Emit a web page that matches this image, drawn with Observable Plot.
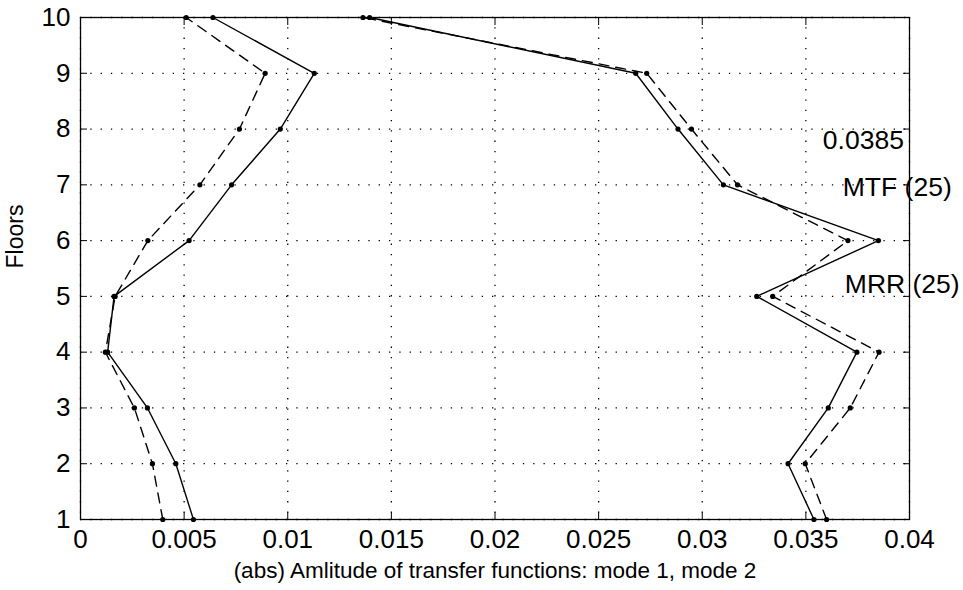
<!DOCTYPE html>
<html>
<head>
<meta charset="utf-8">
<script src="https://cdn.jsdelivr.net/npm/d3@7"></script>
<script src="https://cdn.jsdelivr.net/npm/@observablehq/plot@0.6"></script>
<style>
  html, body { margin: 0; padding: 0; background: #fff; }
  svg { font-family: "Liberation Sans", Arial, sans-serif; }
</style>
</head>
<body>
<div id="chart"></div>
<script>
const floors = [1, 2, 3, 4, 5, 6, 7, 8, 9, 10];
const mode1Solid  = [0.00545, 0.0046, 0.00323, 0.00131, 0.00162, 0.00524, 0.00729, 0.00964, 0.01128, 0.00639];
const mode1Dashed = [0.00397, 0.00347, 0.0026, 0.0012, 0.00167, 0.00325, 0.00576, 0.00767, 0.00891, 0.0051];
const mode2Solid  = [0.03539, 0.03414, 0.03608, 0.03746, 0.03263, 0.0385, 0.03102, 0.02883, 0.02679, 0.01395];
const mode2Dashed = [0.036, 0.03497, 0.03714, 0.03853, 0.0334, 0.03703, 0.0317, 0.02948, 0.02732, 0.01363];
const xTicks = [0, 0.005, 0.01, 0.015, 0.02, 0.025, 0.03, 0.035, 0.04];
const xTickLabels = ["0", "0.005", "0.01", "0.015", "0.02", "0.025", "0.03", "0.035", "0.04"];
const yTicks = [1, 2, 3, 4, 5, 6, 7, 8, 9, 10];
const yTickLabels = ["1", "2", "3", "4", "5", "6", "7", "8", "9", "10"];
const noteText = ["0.0385", "MTF (25)", "MRR (25)"];
const noteX = [0.03973, 0.03678, 0.03688];
const noteY = [7.79, 6.95, 5.21];
const noteAnchor = ["end", "start", "start"];

const series = [
  {name: "mode1-solid", vals: mode1Solid, dash: null},
  {name: "mode1-dashed", vals: mode1Dashed, dash: "10,7"},
  {name: "mode2-solid", vals: mode2Solid, dash: null},
  {name: "mode2-dashed", vals: mode2Dashed, dash: "10,7"}
];
const rows = s => floors.map((f, i) => ({floor: f, v: s.vals[i]}));
const notes = noteText.map((t, i) => ({t, x: noteX[i], y: noteY[i], a: noteAnchor[i]}));

const marks = [
  Plot.gridX(xTicks, {stroke: "#000", strokeOpacity: 1, strokeDasharray: "1.3,9", strokeWidth: 1.3}),
  Plot.gridY(yTicks, {stroke: "#000", strokeOpacity: 1, strokeDasharray: "1.3,9", strokeWidth: 1.3}),
  Plot.axisX(xTicks, {anchor: "bottom", tickSize: -7, tickFormat: () => "", label: null}),
  Plot.axisX(xTicks, {anchor: "top", tickSize: -7, tickFormat: () => "", label: null}),
  Plot.axisY(yTicks, {anchor: "left", tickSize: -7, tickFormat: () => "", label: null}),
  Plot.axisY(yTicks, {anchor: "right", tickSize: -7, tickFormat: () => "", label: null}),
  Plot.text(xTicks, {x: d => d, frameAnchor: "bottom", dy: 28, text: (d, i) => xTickLabels[i], fontSize: 26, fill: "#000"}),
  Plot.text(yTicks, {y: d => d, frameAnchor: "left", dx: -10, textAnchor: "end", text: (d, i) => yTickLabels[i], fontSize: 26, fill: "#000"}),
  Plot.frame({stroke: "#000", strokeWidth: 1.3})
];
for (const s of series) {
  const data = rows(s);
  marks.push(Plot.line(data, {x: "v", y: "floor", stroke: "#000", strokeWidth: 1.4, strokeDasharray: s.dash ?? undefined}));
  marks.push(Plot.dot(data, {x: "v", y: "floor", r: 2.6, fill: "#000", stroke: null}));
}
for (const a of ["start", "end"]) {
  marks.push(Plot.text(notes.filter(n => n.a === a), {x: "x", y: "y", text: "t", textAnchor: a, fontSize: 26.5, fill: "#000"}));
}
marks.push(Plot.text(["(abs) Amlitude of transfer functions: mode 1, mode 2"], {frameAnchor: "bottom", dy: 58, fontSize: 22.5, fill: "#000"}));
marks.push(Plot.text(["Floors"], {frameAnchor: "left", dx: -65, rotate: -90, fontSize: 23, fill: "#000"}));

const chart = Plot.plot({
  width: 963,
  height: 590,
  marginLeft: 80,
  marginRight: 54,
  marginTop: 17,
  marginBottom: 71,
  x: {domain: [0, 0.04]},
  y: {domain: [1, 10]},
  style: {fontFamily: "'Liberation Sans', Arial, sans-serif", color: "#000", overflow: "visible"},
  marks
});
document.getElementById("chart").appendChild(chart);
</script>
</body>
</html>
